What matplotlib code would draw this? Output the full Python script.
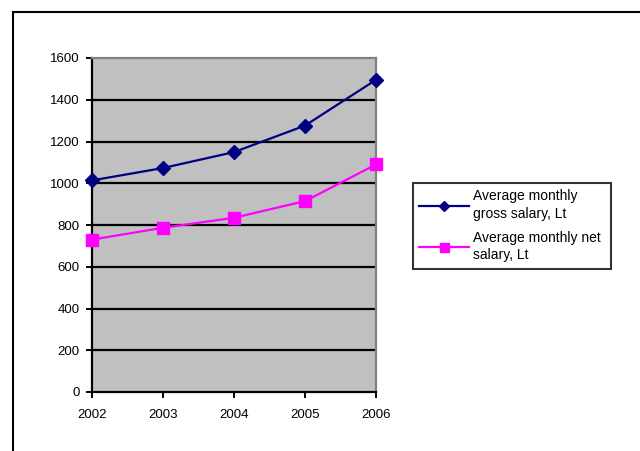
import matplotlib
matplotlib.use("Agg")
import matplotlib.pyplot as plt
from matplotlib.patches import Rectangle

plt.rcParams['font.family'] = ['Liberation Sans', 'DejaVu Sans']

years = [2002, 2003, 2004, 2005, 2006]
gross_salary = [1013.6, 1072.9, 1149.3, 1276.2, 1495.6]
net_salary = [730.0, 786.7, 834.6, 914.4, 1089.9]
gross_label = 'Average monthly\ngross salary, Lt'
net_label = 'Average monthly net\nsalary, Lt'
y_ticks = [0, 200, 400, 600, 800, 1000, 1200, 1400, 1600]

fig = plt.figure(figsize=(6.4, 4.51), dpi=100)

# chart frame running off the bottom/right edge
fig.patches.append(Rectangle((13 / 640, -0.05), 1.0, 1 - 12 / 451 + 0.05,
                             transform=fig.transFigure, fill=False,
                             edgecolor='black', linewidth=1.5))

ax = fig.add_axes([92 / 640, 1 - 392 / 451, 284 / 640, 334 / 451])
ax.set_facecolor('#C0C0C0')

ax.plot(years, gross_salary, color='#000080', lw=1.6, marker='D', ms=7.5,
        mec='#000080', mfc='#000080', label=gross_label, clip_on=False, zorder=4)
ax.plot(years, net_salary, color='#FF00FF', lw=1.6, marker='s', ms=9,
        mec='#FF00FF', mfc='#FF00FF', label=net_label, clip_on=False, zorder=4)

ax.set_xlim(2002, 2006)
ax.set_ylim(0, 1600)
ax.set_xticks(years)
ax.set_xticklabels([str(y) for y in years])
ax.set_yticks(y_ticks)

for v in y_ticks[1:-1]:
    ax.axhline(v, color='black', lw=1.6, zorder=2)

for side in ('left', 'bottom'):
    ax.spines[side].set_color('black')
    ax.spines[side].set_linewidth(1.6)
for side in ('top', 'right'):
    ax.spines[side].set_color('#808080')
    ax.spines[side].set_linewidth(1.6)

ax.tick_params(axis='both', direction='out', length=4, width=1.4,
               labelsize=9.5, colors='black')
ax.tick_params(axis='y', pad=5)
ax.tick_params(axis='x', pad=8)

leg = ax.legend(loc='upper left',
                bbox_to_anchor=(413 / 640, 1 - 268 / 451, 198 / 640, 85 / 451),
                bbox_transform=fig.transFigure, mode='expand', borderaxespad=0,
                fancybox=False, frameon=True, edgecolor='black',
                fontsize=10, handlelength=3.6, handletextpad=0.3,
                markerscale=0.72, labelspacing=0.75, borderpad=0.45)
leg.get_frame().set_linewidth(1.5)
for t in leg.get_texts():
    t.set_linespacing(1.3)

fig.savefig('out.png', dpi=100)
